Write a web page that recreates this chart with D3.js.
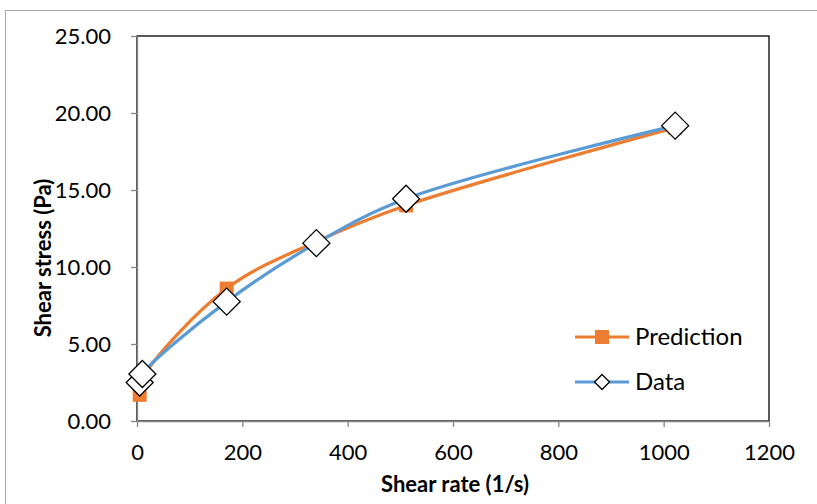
<!DOCTYPE html>
<html>
<head>
<meta charset="utf-8">
<script src="https://cdn.jsdelivr.net/npm/d3@7"></script>
<style>
  html, body { margin: 0; padding: 0; background: #fff; }
  svg { display: block; font-family: Lato, "Open Sans", sans-serif; }
</style>
</head>
<body>
<svg id="chart" width="817" height="504"></svg>
<script>
// Shear rates (1/s) and measured / predicted shear stress (Pa)
const shearRate = [5.1, 10.2, 170.3, 340.6, 510.9, 1021.8];
const dataStress = [2.5, 3.05, 7.75, 11.55, 14.43, 19.18];
const predStress = [1.7, 2.75, 8.6, 11.65, 14.0, 19.05];
const xTicks = [0, 200, 400, 600, 800, 1000, 1200];
const yTicks = [0, 5, 10, 15, 20, 25];
const seriesNames = ["Prediction", "Data"];

const svg = d3.select("#chart");
const plot = { left: 137, right: 769, top: 36, bottom: 421 };

const x = d3.scaleLinear().domain([0, 1200]).range([plot.left, plot.right]);
const y = d3.scaleLinear().domain([0, 25]).range([plot.bottom, plot.top]);

// outer chart frame
svg.append("rect")
  .attr("x", 5.5).attr("y", 10.5)
  .attr("width", 830).attr("height", 520)
  .attr("fill", "#fff").attr("stroke", "#a6a6a6").attr("stroke-width", 1);

// plot area frame
svg.append("rect")
  .attr("x", plot.left).attr("y", plot.top)
  .attr("width", plot.right - plot.left).attr("height", plot.bottom - plot.top)
  .attr("fill", "none").attr("stroke", "#000").attr("stroke-width", 1.3);

// axes
const xAxis = d3.axisBottom(x).tickValues(xTicks).tickFormat(d3.format("d"))
  .tickSizeInner(6).tickSizeOuter(0).tickPadding(17);
const yAxis = d3.axisLeft(y).tickValues(yTicks).tickFormat(d3.format(".2f"))
  .tickSizeInner(6).tickSizeOuter(0).tickPadding(20);

const gx = svg.append("g").attr("transform", `translate(0,${plot.bottom})`).call(xAxis);
const gy = svg.append("g").attr("transform", `translate(${plot.left},0)`).call(yAxis);

[gx, gy].forEach(g => {
  g.selectAll("path.domain").attr("stroke", "#868686").attr("stroke-width", 1.3);
  g.selectAll(".tick line").attr("stroke", "#868686").attr("stroke-width", 1.3);
  g.selectAll(".tick text").attr("fill", "#000").attr("font-size", 22)
    .attr("font-family", "Lato, 'Open Sans', sans-serif");
});

// axis titles
svg.append("text")
  .attr("x", 455).attr("y", 492)
  .attr("text-anchor", "middle").attr("font-size", 22).attr("font-weight", "bold")
  .text("Shear rate (1/s)");
svg.append("text")
  .attr("transform", "translate(51,258) rotate(-90)")
  .attr("text-anchor", "middle").attr("font-size", 22).attr("font-weight", "bold")
  .text("Shear stress (Pa)");

const line = d3.line().curve(d3.curveCatmullRom.alpha(0.5))
  .x(d => x(d[0])).y(d => y(d[1]));

const predPts = shearRate.map((r, i) => [r, predStress[i]]);
const dataPts = shearRate.map((r, i) => [r, dataStress[i]]);

const orange = "#ED7D31", blue = "#5B9BD5";

// Prediction series
svg.append("path").datum(predPts).attr("d", line)
  .attr("fill", "none").attr("stroke", orange).attr("stroke-width", 3.2);
svg.append("g").selectAll("rect").data(predPts).join("rect")
  .attr("x", d => x(d[0]) - 7).attr("y", d => y(d[1]) - 7)
  .attr("width", 14).attr("height", 14).attr("fill", orange);

// Data series
svg.append("path").datum(dataPts).attr("d", line)
  .attr("fill", "none").attr("stroke", blue).attr("stroke-width", 3.2);
const diamond = r => `M0,${-r}L${r},0L0,${r}L${-r},0Z`;
svg.append("g").selectAll("path").data(dataPts).join("path")
  .attr("transform", d => `translate(${x(d[0])},${y(d[1])})`)
  .attr("d", diamond(13.5))
  .attr("fill", "#fff").attr("stroke", "#000").attr("stroke-width", 1.3);

// legend
const legend = svg.append("g");
const legY = [337, 382];
legend.append("line").attr("x1", 575).attr("x2", 629).attr("y1", legY[0]).attr("y2", legY[0])
  .attr("stroke", orange).attr("stroke-width", 3.2);
legend.append("rect").attr("x", 602 - 7).attr("y", legY[0] - 7).attr("width", 14).attr("height", 14)
  .attr("fill", orange);
legend.append("line").attr("x1", 575).attr("x2", 629).attr("y1", legY[1]).attr("y2", legY[1])
  .attr("stroke", blue).attr("stroke-width", 3.2);
legend.append("path").attr("transform", `translate(602,${legY[1]})`).attr("d", diamond(7.5))
  .attr("fill", "#fff").attr("stroke", "#000").attr("stroke-width", 1.3);
legend.selectAll("text").data(seriesNames).join("text")
  .attr("x", 635).attr("y", (d, i) => legY[i]).attr("dy", "0.35em")
  .attr("font-size", 24).text(d => d);
</script>
</body>
</html>
